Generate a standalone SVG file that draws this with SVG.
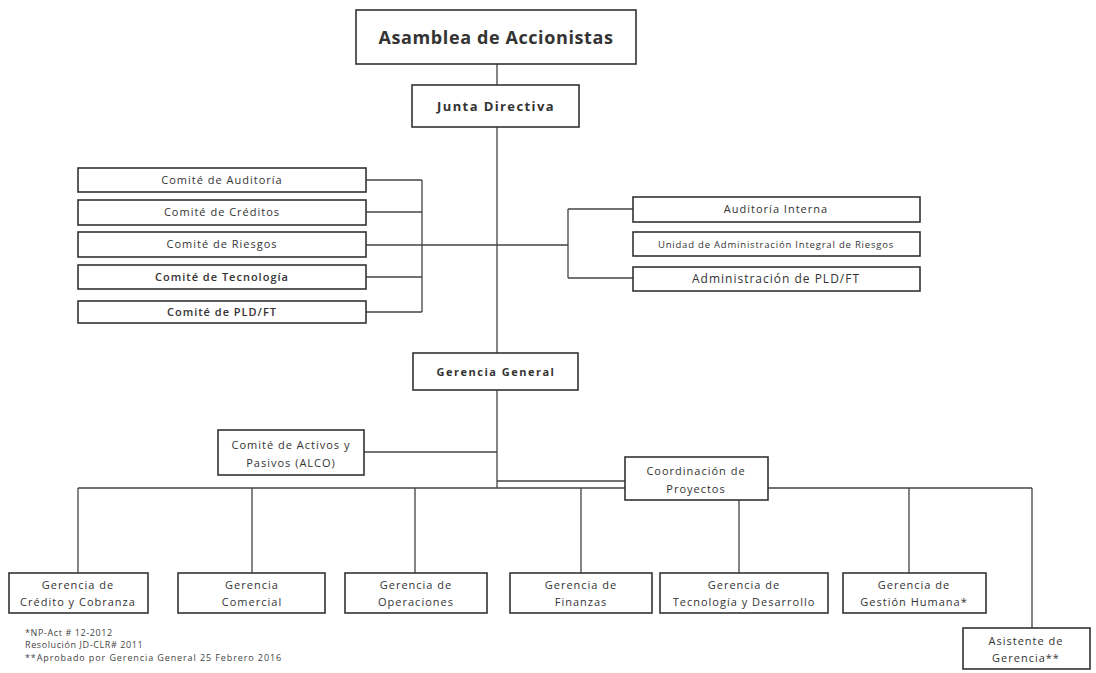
<svg xmlns="http://www.w3.org/2000/svg" width="1096" height="673" viewBox="0 0 1096 673">
<style>
.b{fill:#fff;stroke:#333;stroke-width:1.6}
.t{font-family:"Open Sans","Liberation Sans",sans-serif;fill:#333;text-anchor:middle;font-size:11px;letter-spacing:1px}
.bold{font-weight:bold}
.c{stroke:#444;stroke-width:1.3;fill:none}
.f{font-family:"Open Sans","Liberation Sans",sans-serif;fill:#444;font-size:9px}
</style>
<rect width="1096" height="673" fill="#fff"/>
<g id="connectors">
<path class="c" d="M497 64V85M497 127V353M497 390V488"/>
<path class="c" d="M366 180H422M366 212H422M366 277H422M366 312H422M422 180V312M366 245H568"/>
<path class="c" d="M568 209V278M568 209H633M568 278H633"/>
<path class="c" d="M364 452H497M497 481H625"/>
<path class="c" d="M78 488H1032M78 488V573M252 488V573M415 488V573M581 488V573M739 488V573M909 488V573M1032 488V628"/>
</g>
<g id="asamblea"><rect class="b" x="356" y="10" width="280" height="54"/><text class="t bold" x="496" y="44" style="font-size:18px;letter-spacing:0.6px">Asamblea de Accionistas</text></g>
<g id="junta"><rect class="b" x="412" y="85" width="167" height="42"/><text class="t bold" x="496" y="111" style="font-size:13px;letter-spacing:1.4px">Junta Directiva</text></g>
<g id="c-auditoria"><rect class="b" x="78" y="168" width="288" height="24"/><text class="t" x="222" y="184">Comité de Auditoría</text></g>
<g id="c-creditos"><rect class="b" x="78" y="200" width="288" height="25"/><text class="t" x="222" y="216">Comité de Créditos</text></g>
<g id="c-riesgos"><rect class="b" x="78" y="232" width="288" height="25"/><text class="t" x="222" y="248">Comité de Riesgos</text></g>
<g id="c-tecnologia"><rect class="b" x="78" y="265" width="288" height="24"/><text class="t" x="222" y="281" font-weight="600">Comité de Tecnología</text></g>
<g id="c-pld"><rect class="b" x="78" y="301" width="288" height="22"/><text class="t" x="222" y="316" font-weight="600">Comité de PLD/FT</text></g>
<g id="auditoria-interna"><rect class="b" x="633" y="197" width="287" height="25"/><text class="t" x="776" y="213">Auditoría Interna</text></g>
<g id="uair"><rect class="b" x="633" y="232" width="287" height="24"/><text class="t" x="776" y="247.5" style="font-size:9.5px;letter-spacing:0.8px">Unidad de Administración Integral de Riesgos</text></g>
<g id="adm-pld"><rect class="b" x="633" y="267" width="287" height="24"/><text class="t" x="776" y="283" style="font-size:12px">Administración de PLD/FT</text></g>
<g id="gerencia-general"><rect class="b" x="413" y="353" width="165" height="37"/><text class="t bold" x="496" y="376" style="letter-spacing:1.5px">Gerencia General</text></g>
<g id="alco"><rect class="b" x="218" y="430" width="146" height="45"/><text class="t" x="291" y="449">Comité de Activos y</text><text class="t" x="291" y="467">Pasivos (ALCO)</text></g>
<g id="coordinacion"><rect class="b" x="625" y="457" width="143" height="43"/><text class="t" x="696" y="475">Coordinación de</text><text class="t" x="696" y="493">Proyectos</text></g>
<g id="g-credito"><rect class="b" x="9" y="573" width="139" height="40"/><text class="t" x="78" y="589">Gerencia de</text><text class="t" x="78" y="606">Crédito y Cobranza</text></g>
<g id="g-comercial"><rect class="b" x="178" y="573" width="147" height="40"/><text class="t" x="252" y="589">Gerencia</text><text class="t" x="252" y="606">Comercial</text></g>
<g id="g-operaciones"><rect class="b" x="345" y="573" width="142" height="40"/><text class="t" x="416" y="589">Gerencia de</text><text class="t" x="416" y="606">Operaciones</text></g>
<g id="g-finanzas"><rect class="b" x="510" y="573" width="142" height="40"/><text class="t" x="581" y="589">Gerencia de</text><text class="t" x="581" y="606">Finanzas</text></g>
<g id="g-tecnologia"><rect class="b" x="660" y="573" width="168" height="40"/><text class="t" x="744" y="589">Gerencia de</text><text class="t" x="744" y="606">Tecnología y Desarrollo</text></g>
<g id="g-humana"><rect class="b" x="843" y="573" width="143" height="40"/><text class="t" x="914" y="589">Gerencia de</text><text class="t" x="914" y="606">Gestión Humana*</text></g>
<g id="asistente"><rect class="b" x="963" y="628" width="127" height="41"/><text class="t" x="1026" y="645">Asistente de</text><text class="t" x="1026" y="662">Gerencia**</text></g>
<g id="notas">
<text class="f" x="25" y="636" style="letter-spacing:0.6px">*NP-Act # 12-2012</text>
<text class="f" x="25" y="648" style="letter-spacing:0.6px">Resolución JD-CLR# 2011</text>
<text class="f" x="25" y="661" style="letter-spacing:0.9px">**Aprobado por Gerencia General 25 Febrero 2016</text>
</g>
</svg>
